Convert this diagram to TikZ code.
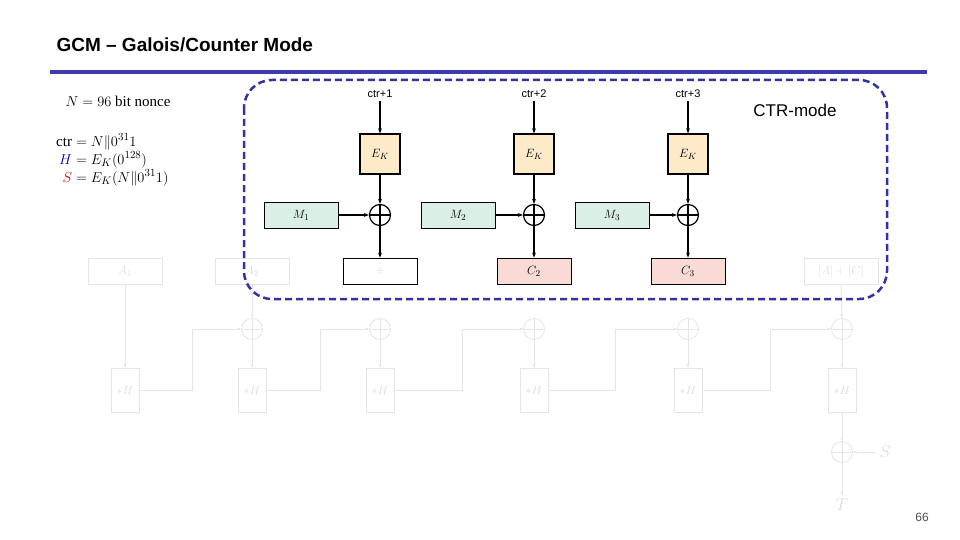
\documentclass[tikz,border=0pt]{standalone}
\usepackage{fontspec}
\usepackage{amsmath}
\setmainfont{Liberation Serif}
\newfontfamily\sans{Liberation Sans}
\usetikzlibrary{arrows.meta}
\begin{document}
\begin{tikzpicture}
[
x=1pt, y=-1pt,
every node/.style={font=\fontsize{13}{15}\selectfont},
Cipher/.style={rectangle, draw=black, fill={rgb,255:red,253;green,234;blue,200}, very thick, minimum size=40pt, inner sep=0pt},
Msg/.style={rectangle, draw=black, fill={rgb,255:red,218;green,240;blue,230}, thick, minimum width=74pt, minimum height=26pt, inner sep=0pt},
Out/.style={rectangle, draw=black, fill={rgb,255:red,250;green,218;blue,212}, thick, minimum width=74pt, minimum height=26pt, inner sep=0pt},
Xor/.style={circle, draw=black, very thick, minimum size=21pt, inner sep=0pt, path picture={\draw[very thick] (path picture bounding box.north)--(path picture bounding box.south) (path picture bounding box.west)--(path picture bounding box.east);}},
Faded/.style={draw=black!10, thick, text=black!14},
FadeBox/.style={rectangle, Faded, minimum width=74pt, minimum height=26pt, inner sep=0pt},
FadeMul/.style={rectangle, Faded, minimum width=28pt, minimum height=44pt, inner sep=0pt},
FadeXor/.style={Xor, draw=black!10, thick, path picture={\draw[black!10, thick] (path picture bounding box.north)--(path picture bounding box.south) (path picture bounding box.west)--(path picture bounding box.east);}},
Arrow/.style={-{Stealth[length=5pt]}, very thick},
FadeArrow/.style={-{Stealth[length=4pt]}, draw=black!10, thick},
]
\useasboundingbox (0,0) rectangle (960,540);

% header
\node[anchor=west, font=\sans\bfseries\fontsize{19}{22}\selectfont] (title) at (53,45) {GCM – Galois/Counter Mode};
\draw[line width=3.5pt, draw={rgb,255:red,60;green,60;blue,170}] (50,72) -- (927,72);
\node[font=\sans\fontsize{12}{14}\selectfont, text=black!70] (page) at (922,517) {66};

% definitions
\node[anchor=west, font=\fontsize{15}{17}\selectfont] (nonce) at (62,101) {$N = 96$ bit nonce};
\node[anchor=north west, font=\fontsize{15}{17}\selectfont, inner sep=0pt] (defs) at (56,133) {%
  $\begin{aligned}
  \mathrm{ctr} &= N\|0^{31}1\\[-4pt]
  \textcolor{blue!70!black}{H} &= E_K(0^{128})\\[-4pt]
  \textcolor{red!80!black}{S} &= E_K(N\|0^{31}1)
  \end{aligned}$};

% faded GHASH part
\foreach \i/\x/\t in {1/125/A_1, 2/252/A_2, 6/841/|A|+|C|}
  \node[FadeBox] (in\i) at (\x,271) {$\t$};
\foreach \i/\x in {1/125, 2/252, 3/380, 4/534, 5/688, 6/842}
  \node[FadeMul] (mul\i) at (\x,390) {$*H$};
\foreach \i/\x in {2/252, 3/380, 4/534, 5/688, 6/842}
  \node[FadeXor] (gx\i) at (\x,329) {};
\node[FadeXor] (tx) at (842,452) {};
\node[text=black!14, font=\fontsize{16}{18}\selectfont] (S) at (885,452) {$S$};
\node[text=black!14, font=\fontsize{16}{18}\selectfont] (T) at (842,505) {$T$};
\draw[FadeArrow] (in1) -- (mul1);
\draw[FadeArrow] (in2) -- (gx2);
\draw[FadeArrow] (in6) -- (gx6);
\foreach \i in {2,...,6}
  \draw[FadeArrow] (gx\i) -- (mul\i);
\foreach \i/\j/\m in {1/2/192, 2/3/320, 3/4/462, 4/5/615, 5/6/770}
  \draw[FadeArrow] (mul\i.east) -- (\m,390) -- (\m,329) -- (gx\j.west);
\draw[FadeArrow] (mul6) -- (tx);
\draw[FadeArrow] (tx) -- (T);
\draw[FadeArrow] (S) -- (tx);

% CTR part
\foreach \i/\x/\mx in {1/380/301, 2/534/458, 3/688/612}{
  \node[font=\sans\fontsize{11}{13}\selectfont] (ctr\i) at (\x,94) {ctr+\i};
  \node[Cipher] (ek\i) at (\x,154) {$E_K$};
  \node[Xor] (cx\i) at (\x,215) {};
  \node[Msg] (m\i) at (\mx,215) {$M_\i$};
  \draw[Arrow] (ctr\i) -- (ek\i);
  \draw[Arrow] (ek\i) -- (cx\i);
  \draw[Arrow] (m\i) -- (cx\i);
}
\node[Out, fill=white] (c1) at (380,271) {\textcolor{black!20}{$\scriptstyle\oplus$}};
\node[Out] (c2) at (534,271) {$C_2$};
\node[Out] (c3) at (688,271) {$C_3$};
\foreach \i in {1,2,3}
  \draw[Arrow] (cx\i) -- (c\i);
\node[font=\sans\fontsize{17}{20}\selectfont] (ctrmode) at (795,110) {CTR-mode};
\draw[line width=2.5pt, dash pattern=on 7pt off 4pt, rounded corners=28pt, draw={rgb,255:red,50;green,50;blue,160}] (244,80) rectangle (887,299);
\end{tikzpicture}
\end{document}
